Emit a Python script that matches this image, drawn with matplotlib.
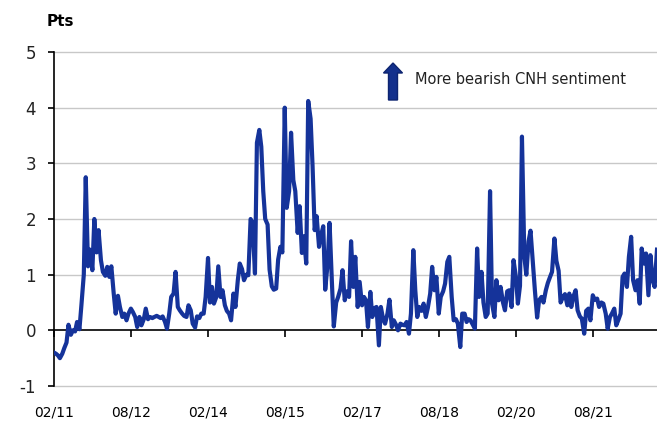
import pandas as pd
import matplotlib
matplotlib.use('Agg')
import matplotlib.pyplot as plt
from matplotlib.patches import FancyArrow
from matplotlib.transforms import IdentityTransform

# 数据: 半月频率读数 (2011-02 起)
start = '2011-02-01'
values = [
    -0.40, -0.42, -0.45, -0.50, -0.42, -0.32, -0.22, 0.10, -0.08, 0.00, -0.02, 0.15,
    0.02, 0.45, 1.00, 2.75, 1.15, 1.45, 1.08, 2.00, 1.40, 1.80, 1.26, 1.05,
    0.98, 1.14, 0.96, 1.15, 0.66, 0.30, 0.62, 0.42, 0.24, 0.30, 0.18, 0.30,
    0.39, 0.33, 0.24, 0.06, 0.24, 0.09, 0.20, 0.39, 0.20, 0.24, 0.22, 0.24,
    0.26, 0.24, 0.22, 0.25, 0.15, 0.03, 0.30, 0.60, 0.66, 1.05, 0.42, 0.36,
    0.30, 0.26, 0.24, 0.45, 0.36, 0.12, 0.05, 0.25, 0.22, 0.30, 0.30, 0.60,
    1.30, 0.50, 0.78, 0.48, 0.60, 1.15, 0.60, 0.72, 0.45, 0.35, 0.30, 0.18,
    0.66, 0.42, 0.90, 1.20, 1.10, 0.90, 1.00, 0.99, 2.00, 1.93, 1.02, 3.37,
    3.60, 3.30, 2.50, 2.00, 1.90, 1.09, 0.79, 0.73, 0.75, 1.27, 1.50, 1.40,
    4.00, 2.20, 2.50, 3.55, 2.70, 2.50, 1.75, 2.23, 1.39, 1.69, 1.20, 4.12,
    3.80, 2.95, 1.80, 2.05, 1.50, 1.70, 1.87, 0.73, 1.20, 1.93, 0.90, 0.07,
    0.50, 0.60, 0.75, 1.08, 0.54, 0.70, 0.60, 1.60, 0.78, 1.32, 0.42, 0.87,
    0.45, 0.60, 0.54, 0.06, 0.69, 0.24, 0.40, 0.42, -0.27, 0.42, 0.20, 0.12,
    0.30, 0.55, 0.06, 0.18, 0.10, 0.00, 0.12, 0.10, 0.09, 0.15, -0.06, 0.30,
    1.44, 0.72, 0.24, 0.42, 0.35, 0.48, 0.24, 0.40, 0.66, 1.14, 0.72, 0.96,
    0.30, 0.60, 0.70, 0.84, 1.23, 1.32, 0.60, 0.18, 0.20, 0.12, -0.30, 0.30,
    0.30, 0.15, 0.20, 0.18, 0.10, 0.03, 1.47, 0.60, 1.05, 0.50, 0.24, 0.30,
    2.50, 0.48, 0.24, 0.90, 0.54, 0.78, 0.50, 0.36, 0.70, 0.72, 0.42, 1.26,
    0.96, 0.48, 0.80, 3.48, 1.32, 1.00, 1.60, 1.79, 1.20, 0.72, 0.23, 0.54,
    0.60, 0.50, 0.72, 0.85, 0.96, 1.05, 1.65, 1.25, 1.07, 0.50, 0.60, 0.65,
    0.45, 0.66, 0.42, 0.60, 0.72, 0.36, 0.25, 0.21, -0.06, 0.35, 0.39, 0.18,
    0.63, 0.55, 0.57, 0.42, 0.50, 0.48, 0.30, 0.03, 0.24, 0.30, 0.39, 0.09,
    0.20, 0.30, 0.96, 1.02, 0.78, 1.32, 1.68, 0.90, 0.72, 0.90, 0.48, 1.47,
    1.20, 1.38, 0.63, 1.35, 0.90, 0.78, 1.45,
]
dates = pd.date_range(start, periods=len(values), freq='SMS')

tick_dates = pd.to_datetime(['2011-02-01', '2012-08-01', '2014-02-01', '2015-08-01',
                             '2017-02-01', '2018-08-01', '2020-02-01', '2021-08-01'])
tick_labels = ['02/11', '08/12', '02/14', '08/15', '02/17', '08/18', '02/20', '08/21']
y_ticks = [-1, 0, 1, 2, 3, 4, 5]

line_color = '#15339A'

fig = plt.figure(figsize=(6.57, 4.21), dpi=100)
ax = fig.add_axes([54 / 657, 35 / 421, 603 / 657, 334 / 421])

ax.plot(dates, values, color=line_color, lw=3, solid_joinstyle='round', zorder=3)

ax.set_xlim(dates[0], dates[-1])
ax.set_ylim(-1, 5)
ax.set_yticks(y_ticks)
ax.set_yticklabels([str(v) for v in y_ticks], fontsize=12, color='#222222')
ax.set_xticks(tick_dates)
ax.set_xticklabels(tick_labels, fontsize=12, color='#222222')

# 网格线 (画出 -1 和 5 两条边线)
for v in y_ticks:
    if v != 0:
        ax.axhline(v, color='#c8c8c8', lw=1, zorder=1, clip_on=False)

# 坐标轴
for s in ['top', 'right']:
    ax.spines[s].set_visible(False)
ax.spines['bottom'].set_position(('data', 0))
ax.spines['bottom'].set_color('black')
ax.spines['bottom'].set_linewidth(1.2)
ax.spines['bottom'].set_zorder(2)
ax.spines['left'].set_color('black')
ax.spines['left'].set_linewidth(1.2)
ax.tick_params(axis='y', length=4, width=1.2, pad=9)
ax.tick_params(axis='x', length=5, width=1.2, pad=49)

fig.text(47 / 657, 1 - 22 / 421, 'Pts', fontsize=11, fontweight='bold', va='center', ha='left')

# 箭头和注释
arr = FancyArrow(393, 421 - 100, 0, 37, width=9, head_width=19, head_length=10,
                 length_includes_head=True, color='#13308C', ec='#0d2470',
                 transform=IdentityTransform())
fig.patches.append(arr)
fig.text(415 / 657, 1 - 80 / 421, 'More bearish CNH sentiment', fontsize=10.5,
         va='center', ha='left', color='#222222')

fig.savefig('out.png', dpi=100)
